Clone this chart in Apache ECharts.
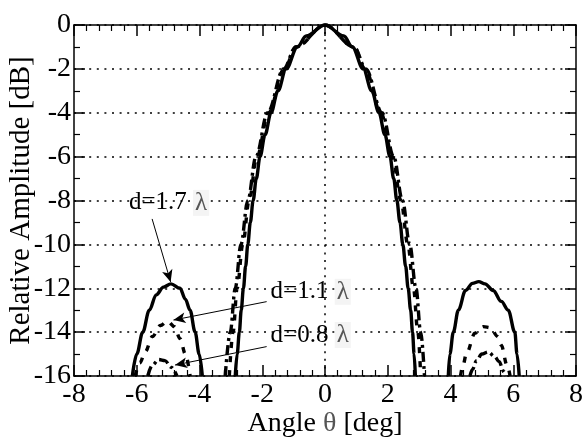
<!DOCTYPE html>
<html>
<head>
<meta charset="utf-8">
<script src="https://cdn.jsdelivr.net/npm/echarts/dist/echarts.min.js"></script>
<style>
  html, body { margin: 0; padding: 0; background: #fff; }
  #chart { width: 585px; height: 445px; }
</style>
</head>
<body>
<div id="chart"></div>
<script>
// Axis ticks
const angleTicks = [-8, -6, -4, -2, 0, 2, 4, 6, 8];
const ampTicks = [-16, -14, -12, -10, -8, -6, -4, -2, 0];

// Radiation pattern, [angle deg, relative amplitude dB], element spacing d = 1.7 lambda
const d17Main = [[-2.86,-16],[-2.80,-15],[-2.73,-14],[-2.67,-13],[-2.60,-12],[-2.53,-11],[-2.46,-10],[-2.38,-9],[-2.29,-8],[-2.19,-7],[-2.07,-6],[-1.91,-5],[-1.72,-4],[-1.50,-3],[-1.24,-2],[-0.88,-1],[-0.60,-0.5],[0,0],[0.60,-0.5],[0.87,-1],[1.22,-2],[1.49,-3],[1.72,-4],[1.91,-5],[2.07,-6],[2.19,-7],[2.29,-8],[2.39,-9],[2.48,-10],[2.57,-11],[2.65,-12],[2.73,-13],[2.79,-14],[2.84,-15],[2.88,-16]];
const d17Left = [[-6.14,-16],[-6.00,-15],[-5.81,-14],[-5.60,-13],[-5.38,-12.3],[-5.15,-11.95],[-4.91,-11.8],[-4.62,-12.0],[-4.45,-12.5],[-4.30,-13],[-4.14,-14],[-4.01,-15],[-3.91,-16]];
const d17Right = [[3.93,-16],[3.98,-15],[4.09,-14],[4.25,-13],[4.48,-12.1],[4.70,-11.78],[4.90,-11.7],[5.10,-11.8],[5.36,-12.1],[5.62,-12.6],[5.84,-13],[6.05,-14],[6.12,-15],[6.19,-16]];

// Element spacing d = 1.1 lambda
const d11Main = [[-3.05,-16],[-2.93,-14],[-2.80,-12],[-2.62,-10],[-2.42,-8],[-2.17,-6],[-1.80,-4],[-1.30,-2],[-0.92,-1],[0,0],[0.92,-1],[1.28,-2],[1.78,-4],[2.15,-6],[2.42,-8],[2.64,-10],[2.82,-12],[2.96,-14],[3.05,-16]];
const d11Left = [[-6.05,-16],[-5.90,-15.4],[-5.73,-14.9],[-5.50,-14.2],[-5.25,-13.7],[-5.02,-13.5],[-4.80,-13.75],[-4.62,-14.3],[-4.45,-15.0],[-4.30,-16]];
const d11Right = [[4.32,-16],[4.40,-15.5],[4.51,-14.96],[4.78,-14.05],[5.05,-13.75],[5.28,-13.8],[5.50,-14.2],[5.62,-14.6],[5.80,-15.5],[5.90,-16]];

// Element spacing d = 0.8 lambda
const d08Main = [[-3.18,-16],[-3.02,-14],[-2.86,-12],[-2.68,-10],[-2.46,-8],[-2.20,-6],[-1.83,-4],[-1.32,-2],[-0.93,-1],[0,0],[0.93,-1],[1.30,-2],[1.82,-4],[2.19,-6],[2.47,-8],[2.70,-10],[2.90,-12],[3.05,-14],[3.17,-16]];
const d08Left = [[-5.65,-16],[-5.50,-15.5],[-5.30,-15.25],[-5.10,-15.3],[-4.90,-15.6],[-4.72,-16]];
const d08Right = [[4.62,-16],[4.70,-15.7],[4.83,-15.3],[5.00,-15.0],[5.20,-14.9],[5.40,-15.1],[5.55,-15.35],[5.70,-15.8],[5.76,-16]];

// Annotation labels and arrows (data coordinates)
const labelTexts = ['d=1.7 ', 'd=1.1 ', 'd=0.8 '];
const labelAt = [[-4.97, -8.11], [-1.75, -12.16], [-1.75, -14.13]];
const arrowFrom = [[-5.51, -8.84], [-1.86, -12.61], [-1.86, -14.66]];
const arrowTo = [[-4.92, -11.71], [-4.83, -13.45], [-4.78, -15.5]];

const FONT = '"Liberation Serif", "Times New Roman", Times, serif';
const INK = '#000';

const chart = echarts.init(document.getElementById('chart'), null, { renderer: 'canvas' });

function lobe(pts, dash) {
  return {
    type: 'line',
    data: pts,
    showSymbol: false,
    symbol: 'none',
    smooth: 0.35,
    smoothMonotone: 'x',
    silent: true,
    animation: false,
    lineStyle: { color: INK, width: 3.4, type: dash, cap: 'butt', join: 'round' },
    z: 3
  };
}

const solid = 'solid';
const dashed = [6, 8];
const dashDot = [10, 4, 3, 4];

const axisBase = {
  type: 'value',
  nameMoveOverlap: false,
  axisLine: { show: true, onZero: false, lineStyle: { color: INK, width: 1.5 } },
  axisTick: { show: true, inside: true, length: 11, lineStyle: { color: INK, width: 1.5 } },
  minorTick: { show: true, length: 6, lineStyle: { color: INK, width: 1.2 } },
  minorSplitLine: { show: false }
};

const gridDots = { color: INK, width: 1.5, type: [2, 5.6] };

const xMin = angleTicks[0], xMax = angleTicks[angleTicks.length - 1], xStep = angleTicks[1] - angleTicks[0];
const yMin = ampTicks[0], yMax = ampTicks[ampTicks.length - 1], yStep = ampTicks[1] - ampTicks[0];

const labelRich = {
  t: { fontFamily: FONT, fontSize: 25, color: INK },
  l: { fontFamily: FONT, fontSize: 25, color: '#555', backgroundColor: '#f4f4f4', padding: [1, 2, 0, 2] }
};

const option = {
  backgroundColor: '#fff',
  animation: false,
  grid: { left: 74, right: 9, top: 25, bottom: 69, containLabel: false, outerBoundsMode: 'none' },
  xAxis: [
    Object.assign({}, axisBase, {
      min: xMin, max: xMax, interval: xStep, position: 'bottom',
      minorTick: Object.assign({}, axisBase.minorTick, { splitNumber: 5 }),
      axisLabel: { fontFamily: FONT, fontSize: 28, color: INK, margin: 5 },
      splitLine: { show: false },
      name: '{t|Angle }{g|θ}{t| [deg]}',
      nameLocation: 'middle', nameGap: 34,
      nameTextStyle: {
        rich: {
          t: { fontFamily: FONT, fontSize: 28, color: INK },
          g: { fontFamily: FONT, fontSize: 28, color: '#555' }
        }
      }
    }),
    Object.assign({}, axisBase, {
      min: xMin, max: xMax, interval: xStep, position: 'top',
      minorTick: Object.assign({}, axisBase.minorTick, { splitNumber: 5 }),
      axisLabel: { show: false }, splitLine: { show: false }
    })
  ],
  yAxis: [
    Object.assign({}, axisBase, {
      min: yMin, max: yMax, interval: yStep, position: 'left',
      minorTick: Object.assign({}, axisBase.minorTick, { splitNumber: 2 }),
      axisLabel: { fontFamily: FONT, fontSize: 28, color: INK, margin: 3 },
      splitLine: { show: true, lineStyle: gridDots },
      name: 'Relative Amplitude [dB]',
      nameLocation: 'middle', nameGap: 38, nameRotate: 90,
      nameTextStyle: { fontFamily: FONT, fontSize: 29, color: INK }
    }),
    Object.assign({}, axisBase, {
      min: yMin, max: yMax, interval: yStep, position: 'right',
      minorTick: Object.assign({}, axisBase.minorTick, { splitNumber: 2 }),
      axisLabel: { show: false }, splitLine: { show: false }
    })
  ],
  series: [
    // vertical reference line at broadside
    {
      type: 'line', data: [], silent: true, animation: false,
      markLine: {
        silent: true, animation: false, symbol: ['none', 'none'],
        label: { show: false },
        lineStyle: gridDots,
        data: [{ xAxis: 0 }]
      }
    },
    lobe(d17Main, solid), lobe(d17Left, solid), lobe(d17Right, solid),
    lobe(d11Main, dashed), lobe(d11Left, dashed), lobe(d11Right, dashed),
    lobe(d08Main, dashDot), lobe(d08Left, dashDot), lobe(d08Right, dashDot),
    // annotations
    {
      type: 'line', data: [], silent: true, animation: false, z: 5,
      markLine: {
        silent: true, animation: false,
        symbol: ['none', 'arrow'], symbolSize: [8, 12],
        label: { show: false },
        lineStyle: { color: INK, width: 1, type: 'solid' },
        data: arrowFrom.map((p, i) => [{ coord: p }, { coord: arrowTo[i] }])
      },
      markPoint: {
        silent: true, animation: false,
        symbol: 'rect', symbolSize: 1,
        itemStyle: { color: 'rgba(0,0,0,0)' },
        data: labelAt.map((p, i) => ({
          coord: p,
          label: {
            show: true,
            position: i === 0 ? 'inside' : 'right',
            distance: 0,
            formatter: '{t|' + labelTexts[i] + '}{l|λ}',
            rich: labelRich
          }
        }))
      }
    }
  ]
};

chart.setOption(option);
</script>
</body>
</html>
